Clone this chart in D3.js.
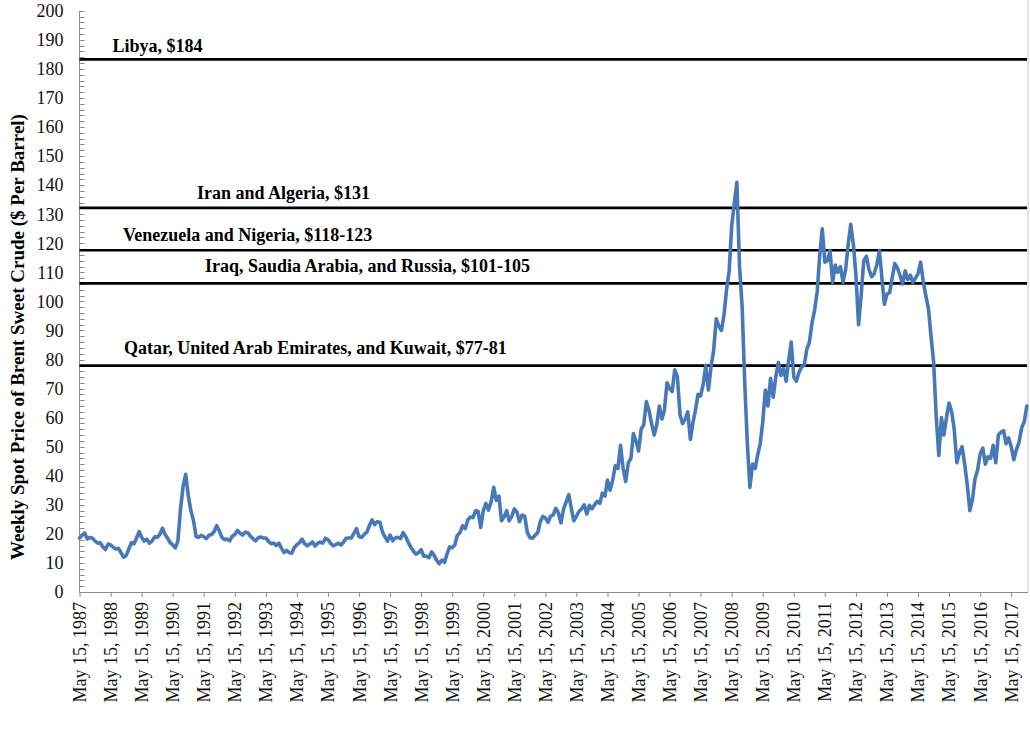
<!DOCTYPE html>
<html>
<head>
<meta charset="utf-8">
<script src="https://cdn.jsdelivr.net/npm/d3@7"></script>
<style>
  html, body { margin: 0; padding: 0; background: #fff; }
  svg { display: block; font-family: "Liberation Serif", "Times New Roman", serif; }
</style>
</head>
<body>
<svg id="chart" width="1030" height="747"></svg>
<script>
// ---------------- DATA ----------------
// Monthly Brent spot price, first value = May 1987
const startDate = "1987-05-15";
const prices1987to1996 = [
  18.6, 19.5, 20.3, 18.2, 18.8, 18.5, 17.5, 16.8,
  16.9, 15.5, 14.6, 16.5, 16.2, 15.4, 14.8, 15.0, 13.5, 12.0, 12.6, 14.8,
  17.0, 16.6, 18.5, 20.8, 18.8, 17.5, 18.2, 16.8, 17.5, 19.0, 18.8, 19.8,
  22.0, 19.8, 18.6, 17.0, 16.2, 15.2, 17.5, 28.5, 36.5, 40.5, 33.0, 28.0,
  24.5, 19.0, 18.8, 19.5, 19.0, 18.4, 19.5, 19.8, 20.8, 22.8, 21.0, 18.8,
  18.0, 18.2, 17.6, 19.2, 19.8, 21.2, 20.2, 19.6, 20.6, 20.4, 19.2, 18.3,
  17.6, 18.7, 18.9, 18.6, 18.6, 17.4, 16.6, 16.8, 16.0, 16.8, 15.0, 13.6,
  14.3, 13.5, 13.3, 15.3, 16.3, 17.0, 18.2, 16.6, 15.9, 16.5, 17.2, 15.8,
  16.8, 17.2, 16.8, 18.5, 18.0, 16.8, 15.9, 16.3, 16.8, 16.2, 17.2, 18.5,
  18.6, 18.6, 20.2, 21.8, 19.0, 18.8, 19.8, 20.6, 23.0, 24.8, 23.2, 24.2
];
const prices1997to2006 = [
  24.0, 20.6, 19.0, 17.5, 19.6, 17.6, 18.6, 18.8, 18.4, 20.4, 19.0, 17.0,
  15.4, 14.0, 13.0, 13.6, 14.6, 12.3, 12.4, 11.8, 13.8, 12.6, 10.9, 9.7,
  11.0, 10.2, 13.0, 15.5, 15.2, 16.2, 19.5, 20.4, 22.8, 21.8, 24.8, 25.8,
  25.6, 28.0, 27.8, 22.2, 28.0, 30.5, 28.2, 31.0, 36.0, 31.5, 33.0, 24.5,
  25.8, 28.0, 24.5, 26.0, 28.6, 27.5, 24.2, 26.5, 26.0, 20.5, 18.7, 18.5,
  19.5, 20.5, 24.0, 26.0, 25.5, 24.0, 26.0, 26.5, 28.8, 27.2, 23.8, 28.5,
  31.0, 33.5, 29.0, 24.5, 26.0, 27.8, 28.6, 30.0, 26.8, 29.8, 28.6, 30.0,
  31.2, 30.5, 34.0, 33.0, 38.5, 35.0, 38.5, 43.5, 42.5, 50.5, 42.5, 38.0,
  44.5, 46.0, 54.5, 52.0, 48.5, 56.0, 57.5, 65.5, 62.5, 58.0, 54.0, 57.5,
  64.0, 59.5, 62.5, 72.0, 70.0, 69.0, 76.5, 74.0, 61.0, 58.0, 59.5, 62.0
];
const prices2007to2017 = [
  52.5, 58.5, 62.5, 68.0, 67.5, 71.5, 78.0, 69.5, 77.5, 83.0, 94.0, 91.5,
  90.0, 95.5, 104.0, 110.5, 126.0, 134.0, 141.0, 112.0, 98.0, 72.0, 51.0, 36.0,
  44.0, 42.5, 47.0, 51.0, 58.5, 69.5, 64.0, 73.5, 67.0, 74.0, 79.0, 74.5,
  77.0, 72.5, 79.5, 86.0, 74.0, 72.5, 75.5, 77.5, 78.0, 83.5, 86.0, 92.5,
  97.0, 103.5, 115.5, 125.0, 113.5, 114.0, 117.5, 106.5, 112.5, 110.0, 112.0, 106.5,
  111.0, 120.0, 126.5, 119.5, 109.0, 92.0, 102.0, 114.0, 115.5, 111.0, 108.5, 109.5,
  112.5, 117.5, 108.5, 99.0, 102.5, 103.0, 108.0, 113.0, 111.5, 109.0, 106.0, 110.5,
  107.5, 109.0, 106.5, 108.0, 109.5, 113.5, 107.0, 102.0, 97.5, 88.0, 79.0, 60.5,
  47.0, 60.0, 54.0, 60.0, 65.0, 62.0, 56.0, 44.5, 48.0, 50.0, 44.0, 37.0,
  28.0, 32.0, 39.0, 42.0, 47.5, 49.5, 44.0, 46.5, 46.0, 50.5, 44.5, 54.0,
  55.0, 55.5, 51.0, 53.0, 50.0, 45.5, 49.0, 51.5, 56.5, 58.5, 64.0
];

const thresholdLabels = [
  "Libya, $184",
  "Iran and Algeria, $131",
  "Venezuela and Nigeria, $118-123",
  "Iraq, Saudia Arabia, and Russia, $101-105",
  "Qatar, United Arab Emirates, and Kuwait, $77-81"
];
const thresholdValues = [183.3, 132.2, 117.6, 106.2, 77.9];

const yTickValues = d3.range(0, 201, 10);
const xTickYears = d3.range(1987, 2018);
const yTitle = "Weekly Spot Price of Brent Sweet Crude ($ Per Barrel)";

// ---------------- LAYOUT ----------------
const labelStartX = [112.5, 197, 123, 205, 124];
const labelGap = [7.5, 9, 9, 11, 11.5];

const parse = d3.timeParse("%Y-%m-%d");
const startD = parse(startDate);
const allPrices = prices1987to1996.concat(prices1997to2006, prices2007to2017);
const series = allPrices.map((v, i) => ({ date: d3.timeMonth.offset(startD, i), value: v }));

const svg = d3.select("#chart");
const plotLeft = 79.5, plotRight = 1028, plotBottom = 592, plotTop = 10.8;

const x = d3.scaleTime()
  .domain([parse("1987-05-15"), parse("2017-11-17")])
  .range([plotLeft, plotRight - 1]);
const y = d3.scaleLinear().domain([0, 200]).range([plotBottom, plotTop]);

const axisColor = "#8c8c8c";

// right plot border
svg.append("line")
  .attr("x1", plotRight).attr("x2", plotRight).attr("y1", 0).attr("y2", plotBottom)
  .attr("stroke", "#c8c8c8").attr("stroke-width", 1);

// Y axis
const yAxis = svg.append("g").attr("transform", `translate(${plotLeft},0)`);
yAxis.append("line").attr("x1", 0).attr("x2", 0).attr("y1", y(200)).attr("y2", plotBottom)
  .attr("stroke", axisColor).attr("stroke-width", 1);
yAxis.selectAll("line.minor").data(d3.range(0, 201, 2)).enter().append("line")
  .attr("class", "minor")
  .attr("x1", 0).attr("x2", 5)
  .attr("y1", d => Math.round(y(d)) + 0.5).attr("y2", d => Math.round(y(d)) + 0.5)
  .attr("stroke", axisColor).attr("stroke-width", 1);
yAxis.selectAll("text").data(yTickValues).enter().append("text")
  .attr("x", -16).attr("y", d => y(d)).attr("dy", "0.35em")
  .attr("text-anchor", "end").attr("font-size", 18).attr("fill", "#111")
  .text(d => d);

// X axis
const xTicks = xTickYears.map(yr => parse(yr + "-05-15"));
const xAxisG = svg.append("g").attr("transform", `translate(0,${plotBottom})`);
xAxisG.call(d3.axisBottom(x).tickValues(xTicks).tickSize(5).tickSizeOuter(0)
  .tickFormat(d3.timeFormat("May 15, %Y")));
xAxisG.select(".domain").attr("stroke", axisColor).attr("d", `M${plotLeft},0.5H${plotRight}`);
xAxisG.selectAll(".tick line").attr("stroke", axisColor);
xAxisG.selectAll(".tick text")
  .attr("font-family", "'Liberation Serif', 'Times New Roman', serif")
  .attr("font-size", 18).attr("fill", "#111")
  .attr("transform", "rotate(-90)")
  .attr("text-anchor", "end")
  .attr("x", -10).attr("y", 0).attr("dy", "0.33em");

// threshold lines
svg.selectAll("line.thr").data(thresholdValues).enter().append("line")
  .attr("class", "thr")
  .attr("x1", plotLeft).attr("x2", plotRight - 1)
  .attr("y1", d => y(d)).attr("y2", d => y(d))
  .attr("stroke", "#000").attr("stroke-width", 2.6);

svg.selectAll("text.thr").data(thresholdLabels).enter().append("text")
  .attr("class", "thr")
  .attr("x", (d, i) => labelStartX[i])
  .attr("y", (d, i) => y(thresholdValues[i]) - labelGap[i])
  .attr("font-size", 18).attr("font-weight", "bold").attr("fill", "#000")
  .text(d => d);

// price line
const line = d3.line().x(d => x(d.date)).y(d => y(d.value));
svg.append("path").datum(series)
  .attr("d", line)
  .attr("fill", "none")
  .attr("stroke", "#4779b9")
  .attr("stroke-width", 3.6)
  .attr("stroke-linejoin", "round")
  .attr("stroke-linecap", "round");

// Y title
svg.append("text")
  .attr("transform", `translate(17,337) rotate(-90)`)
  .attr("text-anchor", "middle").attr("dy", "0.35em")
  .attr("font-size", 19).attr("font-weight", "bold").attr("fill", "#000")
  .text(yTitle);
</script>
</body>
</html>
